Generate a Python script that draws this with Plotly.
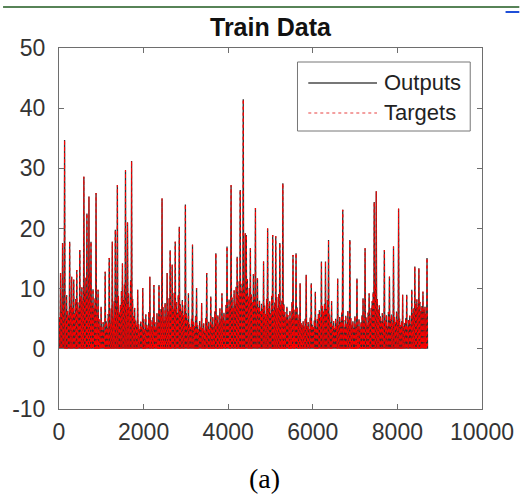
import plotly.graph_objects as go

# ---- data (one peak value per 24-hour block) ----
hours_per_block = 24
daily_low = 0.0
daily_peak = [
    5.2, 12.6, 6.1, 17.6, 7.4, 34.7, 4.8, 8.9, 6.3, 5.5, 17.8, 7.2, 12.0, 6.8, 11.5, 5.9, 8.3, 13.1, 7.7, 6.4,
    16.4, 8.7, 10.2, 7.9, 28.6, 9.4, 11.8, 22.5, 8.1, 25.3, 12.7, 17.8, 7.6, 9.9, 6.8, 8.4, 25.9, 5.7, 9.8, 4.9,
    3.8, 7.0, 3.1, 4.4, 2.9, 12.8, 4.6, 3.5, 5.8, 15.1, 4.2, 6.7, 17.8, 5.1, 7.9, 19.8, 6.2, 27.2, 8.8, 6.0,
    7.3, 9.6, 14.2, 8.1, 10.7, 29.7, 7.5, 21.0, 9.2, 6.9, 11.4, 31.2, 8.3, 5.4, 6.8, 4.7, 3.9, 9.8, 4.1, 3.3,
    4.5, 3.6, 10.1, 4.9, 3.2, 5.7, 4.0, 3.4, 6.1, 12.0, 4.8, 3.7, 5.2, 10.6, 4.4, 3.5, 5.9, 4.3, 10.6, 6.6,
    5.4, 25.0, 6.9, 4.8, 7.6, 5.3, 12.6, 6.2, 8.4, 16.4, 7.1, 14.0, 6.5, 9.3, 17.8, 7.8, 6.0, 8.9, 20.3, 7.4,
    6.3, 8.1, 5.6, 7.2, 24.0, 5.9, 4.7, 9.2, 4.1, 3.6, 5.0, 17.3, 4.4, 3.8, 5.5, 10.1, 3.9, 3.2, 4.6, 3.5,
    7.6, 3.4, 4.2, 3.0, 5.1, 12.6, 3.7, 4.5, 3.3, 8.7, 4.0, 5.3, 3.6, 6.2, 15.9, 4.8, 5.6, 4.1, 6.7, 4.9,
    9.2, 5.2, 6.0, 4.6, 7.3, 17.0, 6.4, 8.2, 7.0, 27.2, 8.5, 6.8, 9.7, 7.4, 10.3, 15.3, 8.9, 11.2, 26.4, 9.6,
    10.8, 41.5, 9.4, 19.2, 18.9, 11.6, 8.7, 10.1, 16.7, 9.0, 7.8, 12.4, 8.6, 23.4, 7.3, 11.7, 6.9, 8.0, 6.2, 7.5,
    6.6, 14.5, 7.2, 5.8, 8.3, 20.0, 6.7, 7.9, 5.9, 8.8, 18.9, 6.4, 7.7, 18.7, 8.6, 6.8, 9.1, 17.6, 7.3, 8.0,
    27.5, 7.4, 6.1, 5.2, 7.0, 5.6, 4.7, 6.3, 5.0, 7.8, 15.6, 6.5, 5.4, 15.9, 6.9, 4.8, 5.7, 10.9, 4.3, 3.9,
    4.6, 3.7, 5.0, 12.3, 3.8, 4.4, 3.3, 5.2, 10.9, 4.0, 3.6, 4.7, 9.5, 3.5, 4.9, 5.8, 6.4, 5.3, 14.5, 7.1,
    6.2, 7.5, 14.5, 6.6, 8.1, 18.1, 5.7, 4.4, 7.9, 3.8, 4.6, 3.4, 5.0, 4.2, 11.7, 3.9, 5.3, 4.5, 6.0, 23.1,
    4.8, 3.6, 5.5, 4.1, 6.3, 4.7, 18.1, 5.1, 3.9, 4.6, 3.5, 5.4, 4.0, 11.7, 3.7, 4.9, 3.3, 4.4, 5.6, 8.4,
    4.5, 16.7, 5.2, 3.9, 6.0, 9.2, 5.1, 6.8, 7.9, 9.4, 24.4, 10.8, 26.2, 8.3, 6.5, 7.2, 5.4, 4.6, 5.9, 4.3,
    16.4, 4.7, 5.6, 3.8, 6.1, 12.0, 4.9, 5.7, 4.2, 17.0, 5.3, 4.4, 6.2, 4.8, 23.3, 5.0, 3.9, 4.6, 9.0, 3.7,
    4.3, 5.1, 9.0, 3.6, 4.8, 5.5, 4.1, 9.8, 5.9, 6.7, 13.7, 7.4, 8.2, 6.9, 13.4, 7.8, 6.3, 7.1, 9.5, 6.5,
    7.0, 5.8, 15.1,
]
x_ticks = [0, 2000, 4000, 6000, 8000, 10000]
y_ticks = [-10, 0, 10, 20, 30, 40, 50]
title_text = "Train Data"
series_names = ["Outputs", "Targets"]
caption_text = "(a)"

# ---- build the hourly series (trough, peak, trough, ...) ----
hours, values = [], []
for d, p in enumerate(daily_peak):
    hours += [d * hours_per_block, d * hours_per_block + hours_per_block // 2]
    values += [daily_low, p]
hours.append(len(daily_peak) * hours_per_block)
values.append(daily_low)
outputs = values
targets = values

W, H = 526, 496
L, R, T, B = 57, 488, 48, 409  # plot area in px
pw, ph = R - L, B - T


def px(xp):
    return (xp - L) / pw


def py(yp):
    return (B - yp) / ph


FONT = "Liberation Sans, Arial, Helvetica, sans-serif"

fig = go.Figure()
fig.add_trace(go.Scatter(x=hours, y=outputs, mode="lines", name=series_names[0],
                         line=dict(color="#303030", width=1.3), showlegend=False))
fig.add_trace(go.Scatter(x=hours, y=targets, mode="lines", name=series_names[1],
                         line=dict(color="#ff0000", width=1, dash="dot"), showlegend=False))

axis_common = dict(showgrid=False, zeroline=False, showline=True, mirror="ticks",
                   linecolor="#6e6e6e", linewidth=1, ticks="inside", ticklen=5,
                   tickcolor="#6e6e6e", tickfont=dict(family=FONT, size=23, color="#333333"))
fig.update_xaxes(range=[0, 10000], tickvals=x_ticks, ticktext=[str(v) for v in x_ticks],
                 ticklabelstandoff=2, **axis_common)
fig.update_yaxes(range=[-10, 50], tickvals=y_ticks, ticktext=[str(v) for v in y_ticks],
                 ticklabelstandoff=8, **axis_common)

shapes = [
    # legend box
    dict(type="rect", xref="paper", yref="paper", x0=px(300), x1=px(476), y0=py(131), y1=py(62),
         line=dict(color="#777777", width=1), fillcolor="white", layer="above"),
    dict(type="line", xref="paper", yref="paper", x0=px(311), x1=px(381), y0=py(83), y1=py(83),
         line=dict(color="#4a4a4a", width=1.5), layer="above"),
    dict(type="line", xref="paper", yref="paper", x0=px(311), x1=px(381), y0=py(113), y1=py(113),
         line=dict(color="#f08080", width=1.5, dash="dot"), layer="above"),
    # page decorations at the top
    dict(type="line", xref="paper", yref="paper", x0=px(0), x1=px(526), y0=py(7), y1=py(7),
         line=dict(color="#1f5a1f", width=1.5)),
    dict(type="line", xref="paper", yref="paper", x0=px(512), x1=px(526), y0=py(12), y1=py(12),
         line=dict(color="#1f4fd8", width=2)),
]

annotations = [
    dict(text=series_names[0], xref="paper", yref="paper", x=px(386), y=py(83), xanchor="left",
         yanchor="middle", showarrow=False, font=dict(family=FONT, size=22, color="#222222")),
    dict(text=series_names[1], xref="paper", yref="paper", x=px(386), y=py(113), xanchor="left",
         yanchor="middle", showarrow=False, font=dict(family=FONT, size=22, color="#222222")),
    dict(text="<b>" + title_text + "</b>", xref="paper", yref="paper", x=0.5, y=py(27),
         xanchor="center", yanchor="middle", showarrow=False,
         font=dict(family=FONT, size=25, color="#111111")),
    dict(text=caption_text, xref="paper", yref="paper", x=px(266), y=py(478),
         xanchor="center", yanchor="middle", showarrow=False,
         font=dict(family="Liberation Serif, Times New Roman, serif", size=28, color="#000000")),
]

fig.update_layout(width=W, height=H, margin=dict(l=L, r=W - R, t=T, b=H - B),
                  paper_bgcolor="white", plot_bgcolor="white",
                  shapes=shapes, annotations=annotations, showlegend=False)

fig.write_html("out.html")
